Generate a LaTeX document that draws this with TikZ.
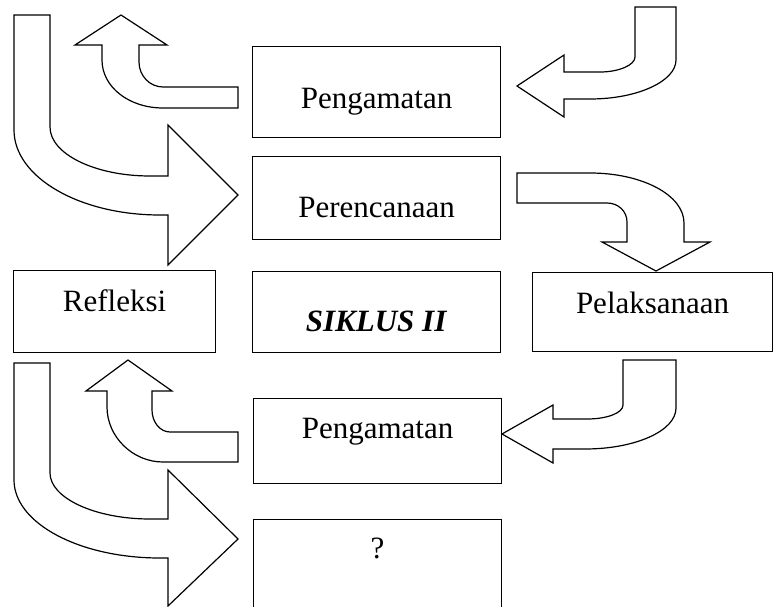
\documentclass[tikz,border=0pt]{standalone}
\usepackage{fontspec}
\setmainfont{Liberation Serif}
\usepackage{tikz}

\begin{document}
\begin{tikzpicture}[x=1pt,y=-1pt,kotak/.style={draw,line width=1.2pt,inner sep=0pt,anchor=north west,font=\fontsize{31}{37}\selectfont},panah/.style={draw,fill=white,line width=1.2pt,line join=miter}]
\useasboundingbox (0,0) rectangle (773,607);
\node[kotak,minimum width=248pt,text height=62pt,text depth=29pt](peng1) at (252,46) {Pengamatan};
\node[kotak,minimum width=248pt,text height=61pt,text depth=22pt](renc) at (252,156) {Perencanaan};
\node[kotak,minimum width=202pt,text height=41pt,text depth=41pt](refl) at (13,270) {Refleksi};
\node[kotak,minimum width=248pt,text height=60pt,text depth=21pt](siklus) at (252,271) {\textbf{\textit{SIKLUS II}}};
\node[kotak,minimum width=240pt,text height=41pt,text depth=38pt](laks) at (532,272) {Pelaksanaan};
\node[kotak,minimum width=248pt,text height=40pt,text depth=45pt](peng2) at (253,398) {Pengamatan};
\node[kotak,minimum width=248pt,text height=39pt,text depth=56pt](tanya) at (253,519) {?};
\draw[panah] (14,15) -- (50,15) -- (50,127) .. controls (50,154) and (95,176) .. (150,176)
   -- (168,176) -- (168,125) -- (238,195) -- (168,265) -- (168,215) -- (160,215)
   .. controls (79,215) and (14,177) .. (14,130) -- cycle;
\draw[panah] (238,87) -- (163,87) .. controls (150,87) and (139,76) .. (139,62) -- (139,45)
   -- (167,45) -- (121,15) -- (75,45) -- (102,45) -- (102,60)
   .. controls (102,87) and (129,108) .. (163,108) -- (238,108) -- cycle;
\draw[panah] (635,7) -- (676,7) -- (676,60) .. controls (676,81) and (638,99) .. (590,99)
   -- (564,99) -- (564,117) -- (517,86) -- (564,55) -- (564,72) -- (600,72)
   .. controls (619,72) and (635,65) .. (635,57) -- cycle;
\draw[panah] (517,173) -- (590,173) .. controls (642,173) and (684,195) .. (684,223)
   -- (684,242) -- (710,242) -- (656,271) -- (602,242) -- (627,242) -- (627,222)
   .. controls (627,211) and (618,203) .. (607,203) -- (517,203) -- cycle;
\draw[panah] (623,360) -- (676,360) -- (676,408) .. controls (676,431) and (635,449) .. (585,449)
   -- (553,449) -- (553,463) -- (502,434) -- (553,405) -- (553,419) -- (587,419)
   .. controls (607,419) and (623,413) .. (623,405) -- cycle;
\draw[panah] (238,432) -- (170,432) .. controls (160,432) and (152,422) .. (152,410) -- (152,391)
   -- (172,391) -- (128,360) -- (86,391) -- (107,391) -- (107,407)
   .. controls (107,437) and (133,462) .. (163,462) -- (238,462) -- cycle;
\draw[panah] (14,363) -- (50,363) -- (50,473) .. controls (50,498) and (95,519) .. (150,519)
   -- (168,519) -- (168,470) -- (238,539) -- (168,606) -- (168,558) -- (160,558)
   .. controls (79,558) and (14,523) .. (14,480) -- cycle;
\end{tikzpicture}
\end{document}
